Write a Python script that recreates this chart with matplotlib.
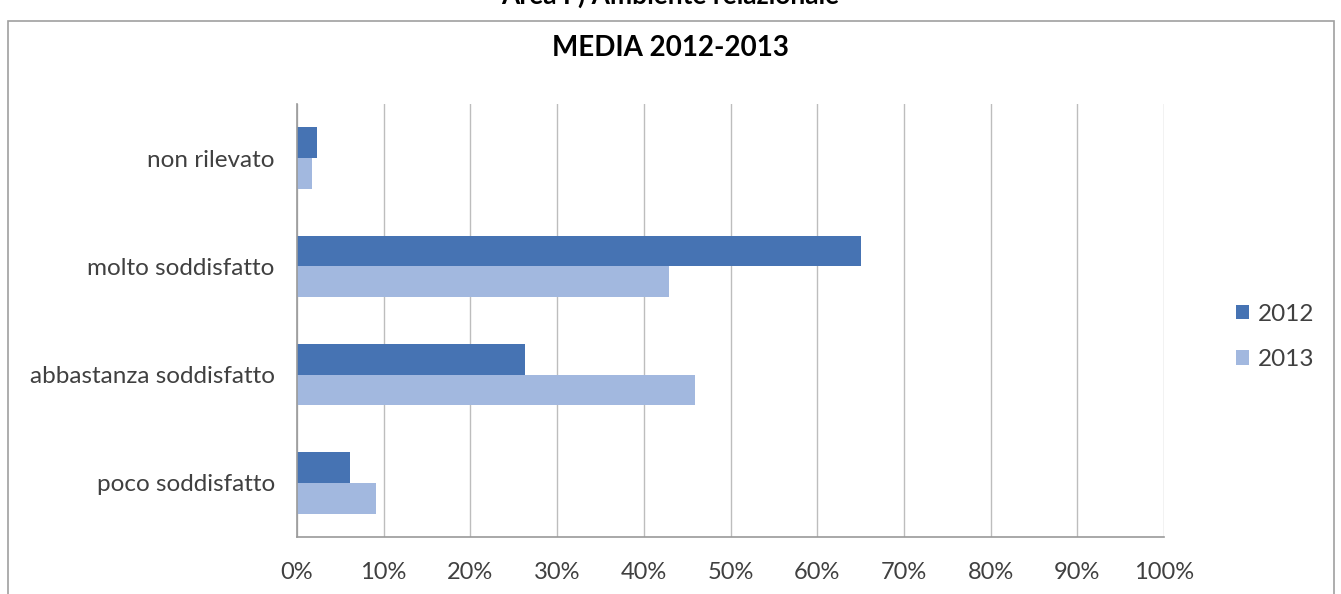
import matplotlib.pyplot as plt
import numpy as np
from matplotlib.patches import Rectangle
from matplotlib.ticker import PercentFormatter

# Categories listed bottom to top, as the chart draws them
categories = ["poco soddisfatto", "abbastanza soddisfatto", "molto soddisfatto", "non rilevato"]
years = ["2012", "2013"]
values_2012 = [6.1, 26.3, 65.1, 2.3]
values_2013 = [9.1, 45.9, 42.9, 1.7]

col_2012 = "#4673B3"
col_2013 = "#A2B8DF"

plt.rcParams['font.family'] = ['Lato', 'DejaVu Sans']

fig = plt.figure(figsize=(13.41, 5.94), dpi=100)
fig.patch.set_facecolor("white")

# outer chart frame
fig.patches.append(Rectangle((8 / 1341, -0.01), 1326 / 1341, 0.975, transform=fig.transFigure,
                             fill=False, edgecolor="#A0A0A0", linewidth=1.2))

# cut-off heading above the chart
fig.text(0.5, 1.008, "Area F) Ambiente relazionale", ha="center", va="center",
         fontsize=19, fontweight="bold", color="black")

ax = fig.add_axes([297 / 1341, 57 / 594, 867 / 1341, 433 / 594])

y = np.arange(len(categories))
h = 0.285
ax.barh(y + h / 2, values_2012, height=h, color=col_2012, label=years[0])
ax.barh(y - h / 2, values_2013, height=h, color=col_2013, label=years[1])

ax.set_xlim(0, 100)
ax.set_ylim(-0.5, len(categories) - 0.5)
ax.set_xticks(np.arange(0, 101, 10))
ax.xaxis.set_major_formatter(PercentFormatter(decimals=0))
ax.set_yticks(y)
ax.set_yticklabels(categories)
ax.tick_params(axis="y", length=0, labelsize=17.5, colors="#404040", pad=16)
ax.tick_params(axis="x", length=0, labelsize=17, colors="#404040", pad=18)

ax.grid(axis="x", color="#BDBDBD", linewidth=1)
ax.set_axisbelow(True)
for side in ["top", "right"]:
    ax.spines[side].set_visible(False)
for side in ["left", "bottom"]:
    ax.spines[side].set_color("#9A9A9A")
    ax.spines[side].set_linewidth(1.2)

fig.text(0.5, 0.92, "MEDIA 2012-2013", ha="center", va="center",
         fontsize=20, fontweight="bold", color="black")

handles, labels = ax.get_legend_handles_labels()
fig.legend(handles, labels, loc="center left", bbox_to_anchor=(1214 / 1341, 0.433),
           frameon=False, fontsize=17.5, handlelength=0.55, handleheight=0.55,
           handletextpad=0.35, labelspacing=1.0, labelcolor="#404040")

fig.savefig("out.png", dpi=100, facecolor="white")
